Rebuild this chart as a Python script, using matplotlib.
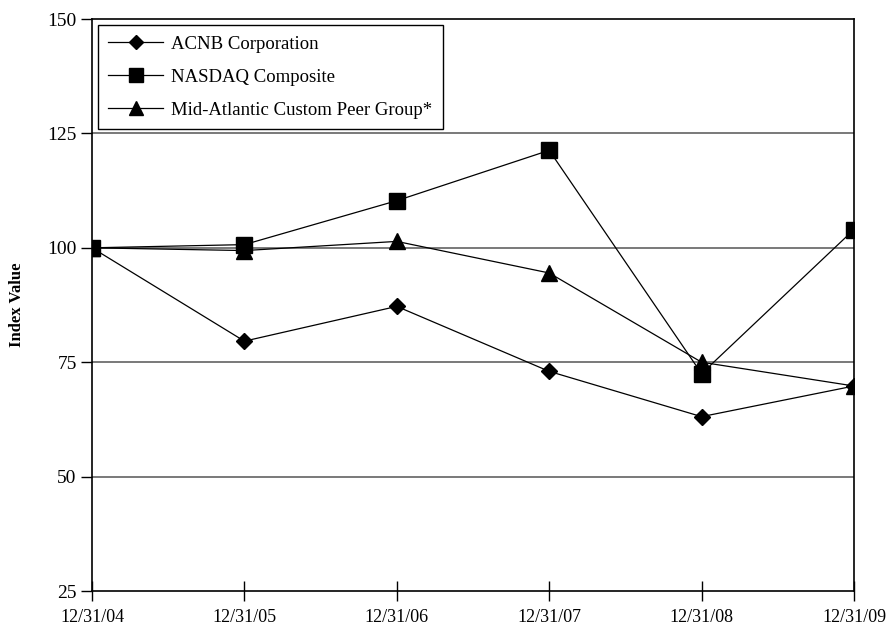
import matplotlib.pyplot as plt

dates = ["12/31/04", "12/31/05", "12/31/06", "12/31/07", "12/31/08", "12/31/09"]
acnb = [100, 79.6, 87.2, 73.0, 63.1, 69.8]
nasdaq = [100, 100.7, 110.3, 121.3, 72.5, 104.0]
peer = [100, 99.4, 101.4, 94.5, 75.0, 69.8]
y_ticks = [25, 50, 75, 100, 125, 150]

plt.rcParams['font.family'] = ['Liberation Serif', 'DejaVu Serif']

fig = plt.figure(figsize=(8.88, 6.3), dpi=100)
ax = fig.add_axes([0.1036, 0.0619, 0.8581, 0.9079])

X = list(range(len(dates)))
for yv in y_ticks[1:-1]:
    ax.axhline(yv, color="#555555", lw=1.1, zorder=1)

ax.plot(X, acnb, color="black", lw=0.9, marker="D", ms=8.5, label="ACNB Corporation", zorder=3)
ax.plot(X, nasdaq, color="black", lw=0.9, marker="s", ms=11.5, label="NASDAQ Composite", zorder=3)
ax.plot(X, peer, color="black", lw=0.9, marker="^", ms=11.5, label="Mid-Atlantic Custom Peer Group*", zorder=3)

ax.set_xlim(0, 5)
ax.set_ylim(25, 150)
ax.set_xticks(X)
ax.set_xticklabels(dates, fontsize=13)
ax.set_yticks(y_ticks)
ax.set_yticklabels([str(v) for v in y_ticks], fontsize=14)
ax.tick_params(axis="x", direction="inout", length=14, width=1, pad=6)
ax.tick_params(axis="y", direction="out", length=8, width=1, pad=3)
for s in ax.spines.values():
    s.set_linewidth(1.2)
ax.set_ylabel("Index Value", fontsize=12, fontweight="bold")
ax.yaxis.set_label_coords(-0.088, 0.5)

leg = ax.legend(loc="upper left", bbox_to_anchor=(0.008, 0.989), fontsize=13.5,
                frameon=True, fancybox=False, edgecolor="black", framealpha=1,
                labelspacing=0.85, handlelength=2.9, borderpad=0.55, handletextpad=0.45,
                markerscale=0.85, borderaxespad=0)
leg.get_frame().set_linewidth(1)

fig.savefig("out.png", dpi=100)
